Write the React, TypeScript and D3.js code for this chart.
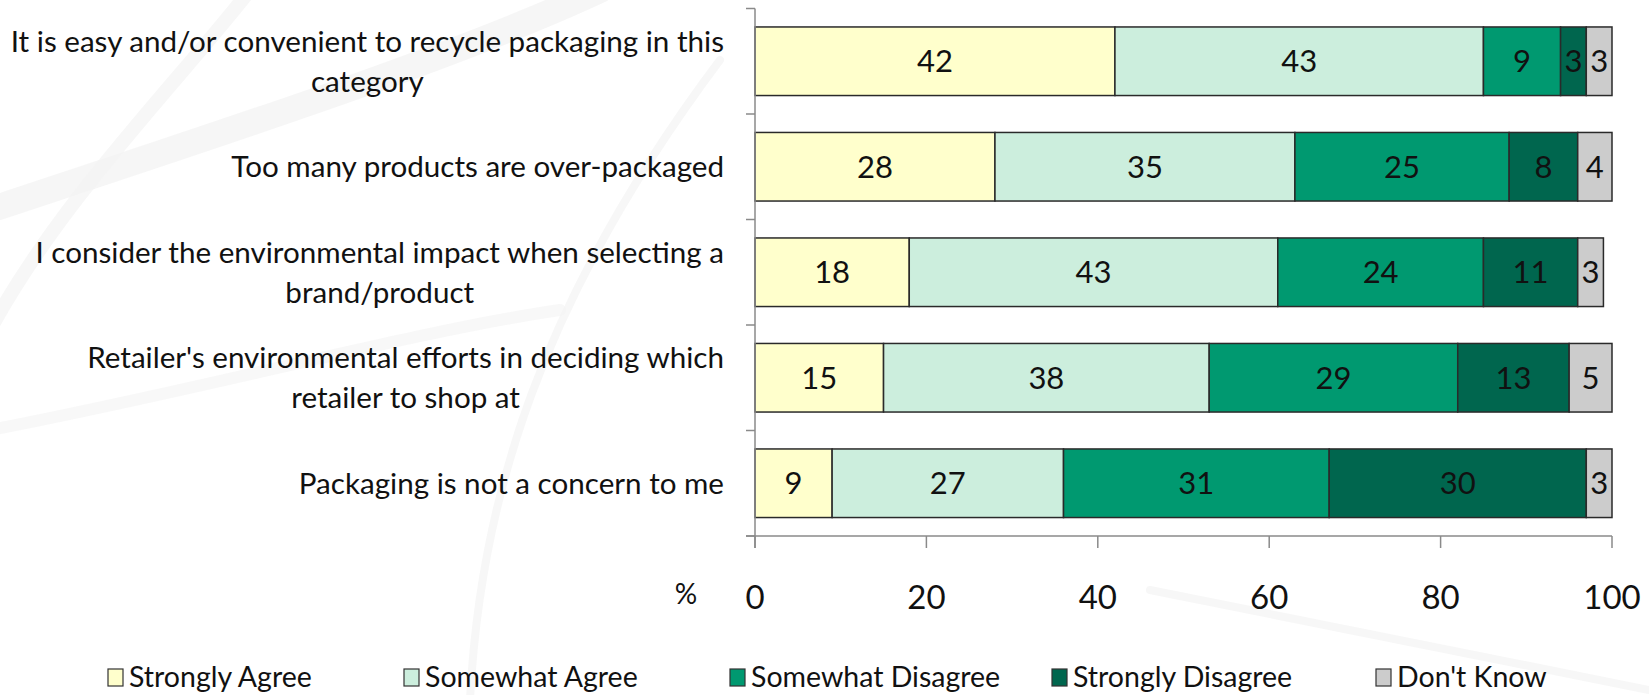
import React, { useEffect, useRef } from "react";
import * as d3 from "d3";

const categories = [
  "It is easy and/or convenient to recycle packaging in this|category",
  "Too many products are over-packaged",
  "I consider the environmental impact when selecting a|brand/product",
  "Retailer's environmental efforts in deciding which|retailer to shop at",
  "Packaging is not a concern to me",
];
const seriesNames = ["Strongly Agree", "Somewhat Agree", "Somewhat Disagree", "Strongly Disagree", "Don't Know"];
const stronglyAgree = [42, 28, 18, 15, 9];
const somewhatAgree = [43, 35, 43, 38, 27];
const somewhatDisagree = [9, 25, 24, 29, 31];
const stronglyDisagree = [3, 8, 11, 13, 30];
const dontKnow = [3, 4, 3, 5, 3];
const xTicks = [0, 20, 40, 60, 80, 100];
const colors = ["#FFFFCC", "#CCEEDD", "#009970", "#00664E", "#CCCCCC"];

const W = 1649;
const H = 695;
const FONT = "Lato, 'Open Sans', sans-serif";
const legendX = [108, 404, 730, 1052, 1376];

export default function App() {
  const ref = useRef<SVGSVGElement>(null);
  useEffect(() => {
    const svg = d3.select(ref.current);
    svg.selectAll("*").remove();
    const series = [stronglyAgree, somewhatAgree, somewhatDisagree, stronglyDisagree, dontKnow];
    const rows = categories.map((c, i) => {
      const r: any = { cat: c };
      seriesNames.forEach((s, j) => (r[s] = series[j][i]));
      return r;
    });
    const stack = d3.stack().keys(seriesNames)(rows);

    const x = d3.scaleLinear().domain([0, 100]).range([755, 1612]);
    const y = d3.scaleBand().domain(categories).range([8.5, 536]).paddingInner(0.35).paddingOuter(0.175);

    // faint watermark
    const wm = svg.append("g").attr("fill", "none").attr("stroke", "#f4f4f4").attr("stroke-linecap", "round");
    wm.append("path").attr("d", "M 600 -10 C 450 60, 200 140, -10 210").attr("stroke-width", 26).attr("opacity", 0.8);
    wm.append("path").attr("d", "M 250 -10 C 180 80, 60 200, -10 330").attr("stroke-width", 14).attr("opacity", 0.7);
    wm.append("path").attr("d", "M 720 60 C 540 300, 480 500, 470 700").attr("stroke-width", 8).attr("opacity", 0.7);
    wm.append("path").attr("d", "M 1150 590 L 1649 690").attr("stroke-width", 8).attr("opacity", 0.7);
    wm.append("path").attr("d", "M -10 430 C 200 390, 420 330, 560 310").attr("stroke-width", 12).attr("opacity", 0.6);

    // bars
    stack.forEach((layer, j) => {
      const g = svg.append("g");
      layer.forEach((d: any) => {
        const cat = d.data.cat;
        g.append("rect")
          .attr("x", x(d[0]))
          .attr("y", y(cat)!)
          .attr("width", x(d[1]) - x(d[0]))
          .attr("height", y.bandwidth())
          .attr("fill", colors[j])
          .attr("stroke", "#2a2a2a")
          .attr("stroke-width", 1.5);
        g.append("text")
          .attr("x", (x(d[0]) + x(d[1])) / 2)
          .attr("y", y(cat)! + y.bandwidth() / 2)
          .attr("dy", "0.36em")
          .attr("text-anchor", "middle")
          .attr("font-family", FONT)
          .attr("font-size", 31)
          .attr("fill", "#111")
          .text(d[1] - d[0]);
      });
    });

    // axes
    const axisColor = "#8a8a8a";
    const step = y.step();
    const y0 = 8.5;
    svg.append("line").attr("x1", x(0)).attr("x2", x(0)).attr("y1", y0).attr("y2", 548).attr("stroke", axisColor).attr("stroke-width", 1.5);
    for (let i = 0; i <= categories.length; i++) {
      const yy = y0 + i * step;
      svg.append("line").attr("x1", x(0) - 9).attr("x2", x(0)).attr("y1", yy).attr("y2", yy).attr("stroke", axisColor).attr("stroke-width", 1.5);
    }
    svg.append("line").attr("x1", x(0) - 9).attr("x2", x(100)).attr("y1", 536).attr("y2", 536).attr("stroke", axisColor).attr("stroke-width", 1.5);
    xTicks.forEach((t) => {
      svg.append("line").attr("x1", x(t)).attr("x2", x(t)).attr("y1", 536).attr("y2", 548).attr("stroke", axisColor).attr("stroke-width", 1.5);
      svg.append("text")
        .attr("x", x(t))
        .attr("y", 597)
        .attr("dy", "0.36em")
        .attr("text-anchor", "middle")
        .attr("font-family", FONT)
        .attr("font-size", 33)
        .attr("fill", "#111")
        .text(t);
    });
    svg.append("text").attr("x", 686).attr("y", 594).attr("dy", "0.36em").attr("text-anchor", "middle")
      .attr("font-family", FONT).attr("font-size", 28).attr("fill", "#111").text("%");

    // category labels
    const labelRight = 724;
    categories.forEach((c) => {
      const lines = c.split("|");
      const cy = y(c)! + y.bandwidth() / 2;
      const lh = 40;
      const g = svg.append("g");
      const texts = lines.map((ln, k) =>
        g.append("text")
          .attr("y", cy + (k - (lines.length - 1) / 2) * lh)
          .attr("dy", "0.36em")
          .attr("text-anchor", "middle")
          .attr("font-family", FONT)
          .attr("font-size", 29.6)
          .attr("fill", "#111")
          .text(ln)
      );
      const widths = texts.map((t) => (t.node() as SVGTextElement).getComputedTextLength());
      const maxW = Math.max(...widths);
      texts.forEach((t) => t.attr("x", labelRight - maxW / 2));
    });

    // legend
    seriesNames.forEach((s, j) => {
      const lx = legendX[j];
      svg.append("rect").attr("x", lx).attr("y", 669).attr("width", 15).attr("height", 17)
        .attr("fill", colors[j]).attr("stroke", "#333").attr("stroke-width", 1.2);
      svg.append("text").attr("x", lx + 21).attr("y", 677).attr("dy", "0.36em")
        .attr("font-family", FONT).attr("font-size", 28.5).attr("fill", "#111").text(s);
    });
  }, []);
  return (
    <svg ref={ref} width={W} height={H} style={{ position: "absolute", left: 0, top: 0, background: "#fff" }} />
  );
}
